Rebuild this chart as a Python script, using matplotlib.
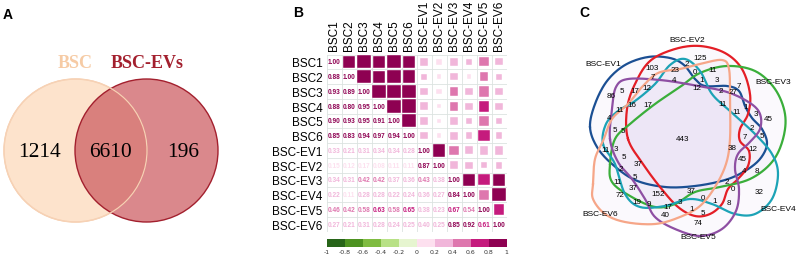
import numpy as np
import matplotlib
matplotlib.use('Agg')
import matplotlib.pyplot as plt
from matplotlib.patches import Circle, Rectangle
from matplotlib.colors import ListedColormap, BoundaryNorm
import matplotlib.colorbar as mcolorbar

# ---------------- data ----------------
venn2_sets = ['BSC', 'BSC-EVs']
venn2_counts = [1214, 6610, 196]   # BSC only, both, EVs only

corr_labels = ['BSC1', 'BSC2', 'BSC3', 'BSC4', 'BSC5', 'BSC6',
               'BSC-EV1', 'BSC-EV2', 'BSC-EV3', 'BSC-EV4', 'BSC-EV5', 'BSC-EV6']
corr_lower = [
    [],
    [0.88],
    [0.93, 0.89],
    [0.88, 0.80, 0.95],
    [0.90, 0.93, 0.95, 0.91],
    [0.85, 0.83, 0.94, 0.97, 0.94],
    [0.33, 0.21, 0.31, 0.34, 0.34, 0.28],
    [0.15, 0.12, 0.17, 0.08, 0.11, 0.11, 0.87],
    [0.34, 0.31, 0.42, 0.42, 0.37, 0.36, 0.43, 0.38],
    [0.22, 0.11, 0.28, 0.28, 0.22, 0.24, 0.36, 0.27, 0.84],
    [0.46, 0.42, 0.58, 0.63, 0.58, 0.65, 0.38, 0.23, 0.67, 0.54],
    [0.27, 0.21, 0.31, 0.28, 0.24, 0.25, 0.40, 0.25, 0.85, 0.92, 0.61],
]
cbar_ticks = [-1, -0.8, -0.6, -0.4, -0.2, 0, 0.2, 0.4, 0.6, 0.8, 1]
cbar_ticklabels = ['-1', '-0.8', '-0.6', '-0.4', '-0.2', '0', '0.2', '0.4', '0.6', '0.8', '1']

venn6_sets = ['BSC-EV1', 'BSC-EV2', 'BSC-EV3', 'BSC-EV4', 'BSC-EV5', 'BSC-EV6']
venn6_counts = [103, 23, 7, 4, 5, 17, 12, 86, 11, 16, 17, 4, 5, 5, 443,
                2, 125, 0, 11, 1, 3, 12, 2, 27, 7, 11, 11, 1, 3, 45, 2, 5, 7,
                38, 12, 45, 4, 8, 2, 0, 37, 32, 0, 1, 8, 3, 1, 5, 74,
                11, 3, 5, 37, 2, 5, 11, 37, 72, 152, 19, 9, 17, 40]

# ---------------- layout (pixel coordinates) ----------------
venn6_pos = [(652, 69), (675, 71), (653, 78), (674, 81), (622, 92), (635, 92), (647, 89),
             (611, 97), (620, 111), (632, 106), (648, 106), (609, 119), (615, 131), (623, 132),
             (683, 140),
             (687, 65), (700, 59), (695, 73), (713, 71), (702, 81), (717, 81), (697, 89),
             (721, 92), (733, 93), (739, 87), (723, 105), (737, 113), (746, 108), (756, 115),
             (768, 120), (752, 128), (762, 137), (745, 138),
             (732, 149), (753, 150), (742, 160), (744, 172), (757, 172), (727, 183), (733, 190),
             (691, 192), (759, 193), (703, 199), (715, 202), (729, 204), (680, 203), (692, 210),
             (703, 214), (698, 224),
             (606, 151), (616, 150), (624, 158), (638, 165), (621, 170), (635, 178), (618, 183),
             (633, 189), (620, 196), (658, 195), (637, 203), (649, 205), (668, 208), (665, 216)]
venn6_label_pos = [(603, 65), (687, 40), (773, 83), (778, 210), (698, 238), (600, 215)]
venn6_colors = ['#1B4F93', '#E41E26', '#3AAE3A', '#1CA3B6', '#8E4FA3', '#F6A688']
venn6_shapes = [
    [(590, 128), (595, 105), (607, 82), (625, 66), (648, 58), (670, 59), (684, 66), (695, 80),
     (705, 87), (727, 87), (739, 92), (745, 107), (752, 119), (762, 130), (767, 145), (760, 160),
     (745, 172), (725, 181), (695, 187), (665, 188), (635, 181), (612, 165), (597, 148)],
    [(628, 140), (627, 110), (635, 85), (650, 62), (675, 50), (700, 47), (725, 54), (742, 70),
     (750, 95), (748, 115), (740, 130), (740, 142), (749, 152), (748, 167), (738, 180), (728, 190),
     (722, 205), (710, 215), (695, 217), (678, 208), (660, 188), (643, 165)],
    [(610, 165), (615, 140), (630, 125), (655, 105), (680, 88), (700, 74), (727, 67), (755, 72),
     (775, 90), (785, 115), (783, 140), (772, 163), (750, 180), (720, 188), (695, 193), (675, 205),
     (655, 208), (630, 197), (612, 183)],
    [(603, 145), (606, 125), (618, 112), (635, 102), (655, 85), (670, 66), (685, 60), (700, 72),
     (712, 95), (730, 112), (755, 135), (772, 155), (778, 175), (772, 200), (755, 215), (735, 215),
     (712, 205), (690, 200), (665, 207), (640, 208), (625, 195), (615, 165)],
    [(610, 140), (612, 110), (616, 88), (628, 80), (660, 81), (693, 86), (727, 93), (750, 104),
     (760, 115), (760, 130), (750, 143), (738, 155), (735, 170), (739, 190), (736, 212), (722, 230),
     (700, 237), (675, 230), (655, 218), (645, 200), (632, 180), (618, 163)],
    [(593, 185), (595, 160), (603, 142), (612, 120), (628, 105), (642, 88), (658, 74), (680, 70),
     (700, 65), (722, 61), (729, 70), (730, 100), (730, 140), (726, 165), (715, 188), (700, 207),
     (680, 218), (655, 225), (625, 223), (605, 215), (593, 200)],
]

W, H = 798, 255
fig = plt.figure(figsize=(W / 100, H / 100), dpi=100)
bg = fig.add_axes([0, 0, 1, 1])
bg.set_xlim(0, W)
bg.set_ylim(H, 0)
bg.axis('off')

sans = ['Liberation Sans', 'DejaVu Sans']
serif = ['Liberation Serif', 'DejaVu Serif']

# panel letters
for lab, (x, y) in zip(['A', 'B', 'C'], [(8, 15), (298, 13), (584, 13)]):
    bg.text(x, y, lab, fontsize=10, fontweight='bold', family=sans, ha='center', va='center')

# ---------------- Panel A ----------------
c1 = Circle((75.5, 151.5), 71.5, facecolor='#FDE3CC', edgecolor='#F8CFAE', lw=1.0, zorder=1)
c2 = Circle((146.5, 151.5), 71.5, facecolor=(203/255, 86/255, 92/255), alpha=0.7,
            edgecolor='none', zorder=2)
c2e = Circle((146.5, 151.5), 71.5, facecolor='none', edgecolor='#A3202E', lw=1.0, zorder=3)
c1e = Circle((75.5, 151.5), 71.5, facecolor='none', edgecolor='#F6D2B6', lw=0.9, zorder=3)
for p in (c1, c2, c2e, c1e):
    bg.add_patch(p)
bg.text(75, 63, venn2_sets[0], color='#F6CBA5', fontsize=13, fontweight='bold', family=serif,
        ha='center', va='center')
bg.text(147, 63, venn2_sets[1], color='#A3202E', fontsize=13, fontweight='bold', family=serif,
        ha='center', va='center')
for val, x in zip(venn2_counts, [40, 110, 183]):
    bg.text(x, 153, str(val), fontsize=15.5, family=serif, ha='center', va='center', zorder=5)

# ---------------- Panel B ----------------
n = len(corr_labels)
R = np.eye(n)
for i, row in enumerate(corr_lower):
    for j, v in enumerate(row):
        R[i, j] = v
        R[j, i] = v

pal = ['#276419', '#4D9221', '#7FBC41', '#B8E186', '#E6F5D0',
       '#FDE0EF', '#F1B6DA', '#DE77AE', '#C51B7D', '#8E0152']
cmap = ListedColormap(pal)
norm = BoundaryNorm(np.linspace(-1, 1, 11), cmap.N)

top, bot = 55.5, 232.5
left, right = 326.5, 506.5
axB = fig.add_axes([left / W, 1 - bot / H, (right - left) / W, (bot - top) / H])
axB.set_xlim(-0.5, n - 0.5)
axB.set_ylim(n - 0.5, -0.5)
for k in range(n + 1):
    axB.axhline(k - 0.5, color='#DCE3E0', lw=0.6, zorder=0)
    axB.axvline(k - 0.5, color='#DCE3E0', lw=0.6, zorder=0)
for i in range(n):
    for j in range(n):
        v = R[i, j]
        col = cmap(norm(v))
        if j <= i:
            axB.text(j, i, f'{v:.2f}', fontsize=4.7, fontweight='bold', color=col,
                     family=sans, ha='center', va='center')
        else:
            s = np.sqrt(abs(v)) * 0.92
            axB.add_patch(Rectangle((j - s / 2, i - s / 2), s, s, facecolor=col,
                                    edgecolor='white', lw=0.3))
axB.set_xticks(range(n))
axB.set_yticks(range(n))
axB.set_xticklabels(corr_labels, rotation=90, fontsize=8.5, family=sans)
axB.set_yticklabels(corr_labels, fontsize=8.5, family=sans)
axB.xaxis.tick_top()
axB.tick_params(length=0, pad=3)
for sp in axB.spines.values():
    sp.set_visible(False)

cax = fig.add_axes([left / W, 1 - 247.5 / H, (right - left) / W, 8 / H])
cb = mcolorbar.ColorbarBase(cax, cmap=cmap, norm=norm, orientation='horizontal',
                            ticks=cbar_ticks)
cb.set_ticklabels(cbar_ticklabels)
cb.outline.set_visible(False)
cax.tick_params(length=0, labelsize=4.5, pad=2, labelcolor='#333333')


# ---------------- Panel C ----------------
def closed_curve(pts, m=16):
    P = np.array(pts, float)
    N = len(P)
    t = np.linspace(0, 1, m, endpoint=False)[:, None]
    out = []
    for i in range(N):
        p0, p1, p2, p3 = P[i - 1], P[i], P[(i + 1) % N], P[(i + 2) % N]
        seg = 0.5 * (2 * p1 + (-p0 + p2) * t + (2 * p0 - 5 * p1 + 4 * p2 - p3) * t ** 2
                     + (-p0 + 3 * p1 - 3 * p2 + p3) * t ** 3)
        out.append(seg)
    out = np.vstack(out)
    return np.vstack([out, out[:1]])


curves = [closed_curve(s) for s in venn6_shapes]
for c in curves:
    bg.fill(c[:, 0], c[:, 1], color='#E2D4F2', alpha=0.12, lw=0, zorder=1)
for c, col in zip(curves, venn6_colors):
    bg.plot(c[:, 0], c[:, 1], color=col, lw=1.6, zorder=2, solid_joinstyle='round')
for val, (x, y) in zip(venn6_counts, venn6_pos):
    bg.text(x, y, str(val), fontsize=5.8, family=sans, ha='center', va='center', zorder=4)
for lab, (x, y) in zip(venn6_sets, venn6_label_pos):
    bg.text(x, y, lab, fontsize=6.0, family=sans, ha='center', va='center', zorder=4)

fig.savefig('out.png', dpi=100)
